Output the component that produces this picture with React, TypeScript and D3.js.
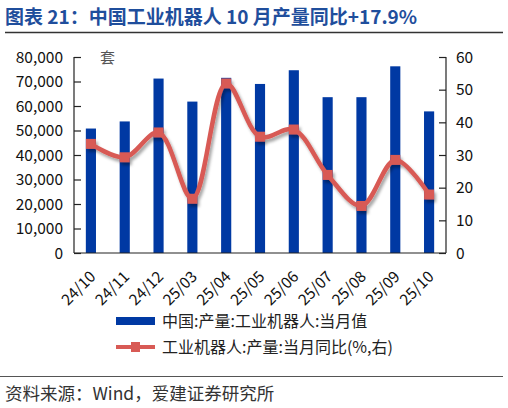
import { useEffect, useRef } from "react"
import * as d3 from "d3"

const months = ["24/10", "24/11", "24/12", "25/03", "25/04", "25/05", "25/06", "25/07", "25/08", "25/09", "25/10"]
const output = [50800, 53700, 71200, 61800, 71500, 69000, 74600, 63600, 63600, 76200, 57800]
const yoy = [33.4, 29.3, 36.9, 16.6, 51.9, 35.6, 37.8, 23.9, 14.4, 28.5, 17.9]
const leftTicks = [0, 10000, 20000, 30000, 40000, 50000, 60000, 70000, 80000]
const rightTicks = [0, 10, 20, 30, 40, 50, 60]

const FONT = "'Noto Sans CJK SC', 'Noto Sans', sans-serif"
const BLUE = "#0039a3"
const RED = "#d85a55"

export default function App() {
  const svgRef = useRef<SVGSVGElement>(null)

  useEffect(() => {
    if (!svgRef.current) return
    const svg = d3.select(svgRef.current)
    svg.selectAll("*").remove()

    const left = 74
    const right = 446
    const top = 57
    const bottom = 253

    const defs = svg.append("defs")
    const f = defs.append("filter").attr("id", "shadow").attr("x", "-10%").attr("y", "-10%").attr("width", "130%").attr("height", "140%")
    f.append("feDropShadow").attr("dx", 2).attr("dy", 3).attr("stdDeviation", 1.8)
      .attr("flood-color", "#000").attr("flood-opacity", 0.35)

    // title
    svg.append("text").attr("x", 5).attr("y", 24)
      .attr("font-family", FONT).attr("font-size", 19).attr("font-weight", "bold")
      .attr("fill", "#1f4e9c")
      .text("图表 21：中国工业机器人 10 月产量同比+17.9%")
    svg.append("line").attr("x1", 5).attr("x2", 503).attr("y1", 32.5).attr("y2", 32.5)
      .attr("stroke", "#333").attr("stroke-width", 1.5)

    const x = d3.scaleBand().domain(months).range([left, right]).paddingInner(0.7).paddingOuter(0.35)
    const yL = d3.scaleLinear().domain([0, 80000]).range([bottom, top])
    const yR = d3.scaleLinear().domain([0, 60]).range([bottom, top])
    const cx = (m: string) => (x(m) ?? 0) + x.bandwidth() / 2

    // bars
    svg.append("g").selectAll("rect").data(output).enter().append("rect")
      .attr("x", (_, i) => x(months[i]) ?? 0)
      .attr("y", (d) => yL(d))
      .attr("width", x.bandwidth())
      .attr("height", (d) => bottom - yL(d))
      .attr("fill", BLUE)

    // axes
    const axL = svg.append("g").attr("transform", `translate(${left},0)`)
      .call(d3.axisRight(yL).tickValues(leftTicks).tickSize(7).tickFormat(() => ""))
    axL.select(".domain").remove()
    axL.selectAll("line").attr("stroke", "#222").attr("stroke-width", 1.2)
    const axR = svg.append("g").attr("transform", `translate(${right},0)`)
      .call(d3.axisLeft(yR).tickValues(rightTicks).tickSize(7).tickFormat(() => ""))
    axR.select(".domain").remove()
    axR.selectAll("line").attr("stroke", "#222").attr("stroke-width", 1.2)

    svg.append("line").attr("x1", left).attr("x2", left).attr("y1", top).attr("y2", bottom).attr("stroke", "#222").attr("stroke-width", 1.2)
    svg.append("line").attr("x1", right).attr("x2", right).attr("y1", top).attr("y2", bottom).attr("stroke", "#222").attr("stroke-width", 1.2)
    svg.append("line").attr("x1", left).attr("x2", right).attr("y1", bottom).attr("y2", bottom).attr("stroke", "#222").attr("stroke-width", 1.2)

    const fmt = d3.format(",")
    svg.append("g").selectAll("text").data(leftTicks).enter().append("text")
      .attr("x", 63).attr("y", (d) => yL(d)).attr("dy", "0.36em")
      .attr("text-anchor", "end").attr("font-family", FONT).attr("font-size", 15.5).attr("fill", "#111")
      .text((d) => fmt(d))
    svg.append("g").selectAll("text").data(rightTicks).enter().append("text")
      .attr("x", 456).attr("y", (d) => yR(d)).attr("dy", "0.36em")
      .attr("font-family", FONT).attr("font-size", 15.5).attr("fill", "#111")
      .text((d) => String(d))

    svg.append("text").attr("x", 100).attr("y", 63).attr("font-family", FONT).attr("font-size", 15).attr("fill", "#555").text("套")

    // x labels
    svg.append("g").selectAll("text").data(months).enter().append("text")
      .attr("transform", (d) => `translate(${cx(d) - 2},${bottom + 17}) rotate(-45)`)
      .attr("text-anchor", "end").attr("dy", "0.7em")
      .attr("font-family", FONT).attr("font-size", 15.5).attr("fill", "#111")
      .text((d) => d)

    // line
    const line = d3.line<number>()
      .x((_, i) => cx(months[i]))
      .y((d) => yR(d))
      .curve(d3.curveCatmullRom.alpha(0.5))
    const lg = svg.append("g").attr("filter", "url(#shadow)")
    lg.append("path").datum(yoy).attr("d", line).attr("fill", "none")
      .attr("stroke", RED).attr("stroke-width", 4.5)
    lg.selectAll("rect").data(yoy).enter().append("rect")
      .attr("x", (_, i) => cx(months[i]) - 5).attr("y", (d) => yR(d) - 5)
      .attr("width", 10).attr("height", 10).attr("fill", RED)

    // legend
    svg.append("rect").attr("x", 116).attr("y", 317).attr("width", 39).attr("height", 8).attr("fill", BLUE)
    svg.append("text").attr("x", 162).attr("y", 321).attr("dy", "0.36em")
      .attr("font-family", FONT).attr("font-size", 16).attr("fill", "#222").text("中国:产量:工业机器人:当月值")
    svg.append("line").attr("x1", 116).attr("x2", 155).attr("y1", 347).attr("y2", 347).attr("stroke", RED).attr("stroke-width", 4)
    svg.append("rect").attr("x", 131).attr("y", 342).attr("width", 9).attr("height", 10).attr("fill", RED)
    svg.append("text").attr("x", 162).attr("y", 347).attr("dy", "0.36em")
      .attr("font-family", FONT).attr("font-size", 16).attr("fill", "#222").text("工业机器人:产量:当月同比(%,右)")

    // source
    svg.append("line").attr("x1", 0).attr("x2", 503).attr("y1", 376.5).attr("y2", 376.5).attr("stroke", "#555").attr("stroke-width", 1)
    svg.append("text").attr("x", 5).attr("y", 400)
      .attr("font-family", FONT).attr("font-size", 17.5).attr("fill", "#333").text("资料来源：Wind，爱建证券研究所")
  }, [])

  return (
    <svg ref={svgRef} width={508} height={408} style={{ position: "absolute", left: 0, top: 0, background: "#fff" }} />
  )
}
